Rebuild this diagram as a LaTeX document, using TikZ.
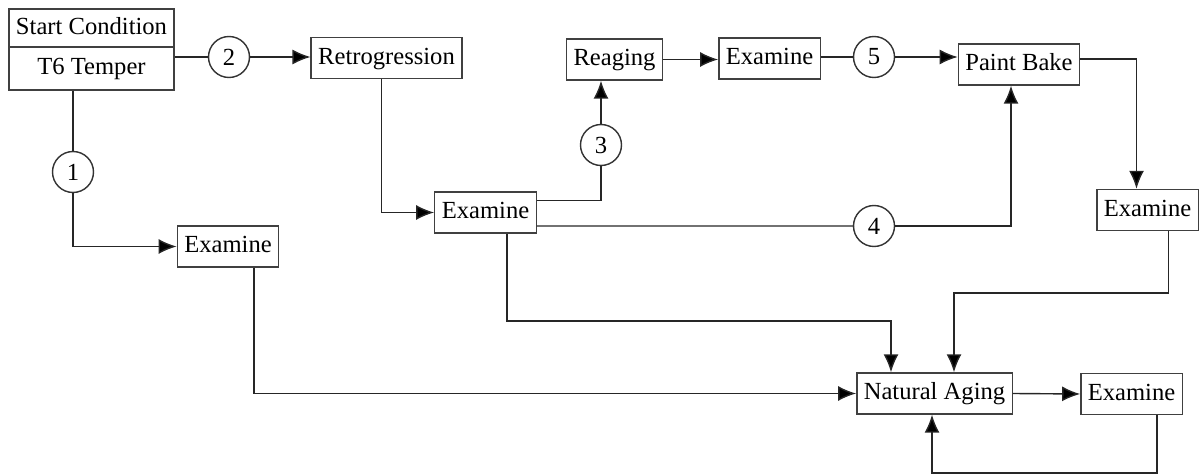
\documentclass[tikz,border=0pt]{standalone}
\usepackage{fontspec}
\setmainfont{Liberation Serif}[Ligatures=TeX]
\usepackage{tikz}
\usetikzlibrary{positioning,calc,arrows.meta}

\tikzset{
  stage/.style={draw=black!75,line width=0.8pt,rectangle,inner xsep=0.14cm,inner ysep=0.18cm,
    text height=0.36cm,text depth=0.1cm},
  route/.style={draw=black!80,circle,line width=0.8pt,minimum size=0.82cm,inner sep=0pt},
  flow/.style={draw=black!85,line width=0.8pt,-{Latex[length=0.36cm,width=0.3cm,fill=black]}},
  link/.style={draw=black!85,line width=0.8pt}
}

\begin{document}
\begin{tikzpicture}[x=0.02cm,y=-0.02cm,font=\fontsize{14}{16}\selectfont\rmfamily]
\useasboundingbox (0,0) rectangle (1199,475);
% start condition with two rows
\node[stage,minimum width=3.3cm,minimum height=0.76cm,inner ysep=0pt] (start) at (91.5,28) {Start Condition};
\node[stage,minimum width=3.3cm,minimum height=0.86cm,inner ysep=0pt,below=-0.8pt of start] (temper) {T6 Temper};
% process steps
\node[stage] (retro) at (386.5,58) {Retrogression};
\node[stage] (ex1) at (228,246.5) {Examine};
\node[stage] (ex2) at (485.5,212.5) {Examine};
\node[stage] (reag) at (614.5,59.5) {Reaging};
\node[stage] (ex3) at (769.5,58.5) {Examine};
\node[stage] (paint) at (1019,64.5) {Paint Bake};
\node[stage] (ex4) at (1147.5,210) {Examine};
\node[stage] (na) at (934.5,393.5) {Natural Aging};
\node[stage] (ex5) at (1131.5,394) {Examine};
% numbered routes
\node[route] (c1) at (73,172) {1};
\node[route] (c2) at (229,57) {2};
\node[route] (c3) at (601,145) {3};
\node[route] (c4) at (874,226) {4};
\node[route] (c5) at (874,57) {5};
% bends of the long lines
\coordinate (m1) at (891,321);
\coordinate (m2) at (954,293);
\coordinate (m3) at (932,473);
% the arrows
\draw[link] (c1 |- temper.south) -- (c1);
\draw[flow] (c1) |- (ex1.west);
\draw[link] (c2 -| temper.east) -- (c2);
\draw[flow] (c2) -- (c2 -| retro.west);
\draw[flow] ([xshift=-0.1cm]retro.south) |- (ex2.west);
\draw[link] ([yshift=0.24cm]ex2.east) -| (c3);
\draw[flow] (c3) -- (c3 |- reag.south);
\draw[flow] (reag.east) -- (reag.east -| ex3.west);
\draw[link] (c5 -| ex3.east) -- (c5);
\draw[flow] (c5) -- (c5 -| paint.west);
\draw[link] ([yshift=-0.27cm]ex2.east) -- (c4);
\draw[flow] (c4) -| ([xshift=-0.16cm]paint.south);
\draw[flow] ([yshift=0.11cm]paint.east) -| ([xshift=-0.22cm]ex4.north);
\draw[flow] ([xshift=0.42cm]ex4.south) |- (m2) -- (m2 |- na.north);
\draw[flow] ([xshift=0.43cm]ex2.south) |- (m1) -- (m1 |- na.north);
\draw[flow] ([xshift=0.52cm]ex1.south) |- (na.west);
\draw[flow] (na.east) -- (ex5.west);
\draw[flow] ([xshift=0.51cm]ex5.south) |- (m3) -- (m3 |- na.south);
\end{tikzpicture}
\end{document}
